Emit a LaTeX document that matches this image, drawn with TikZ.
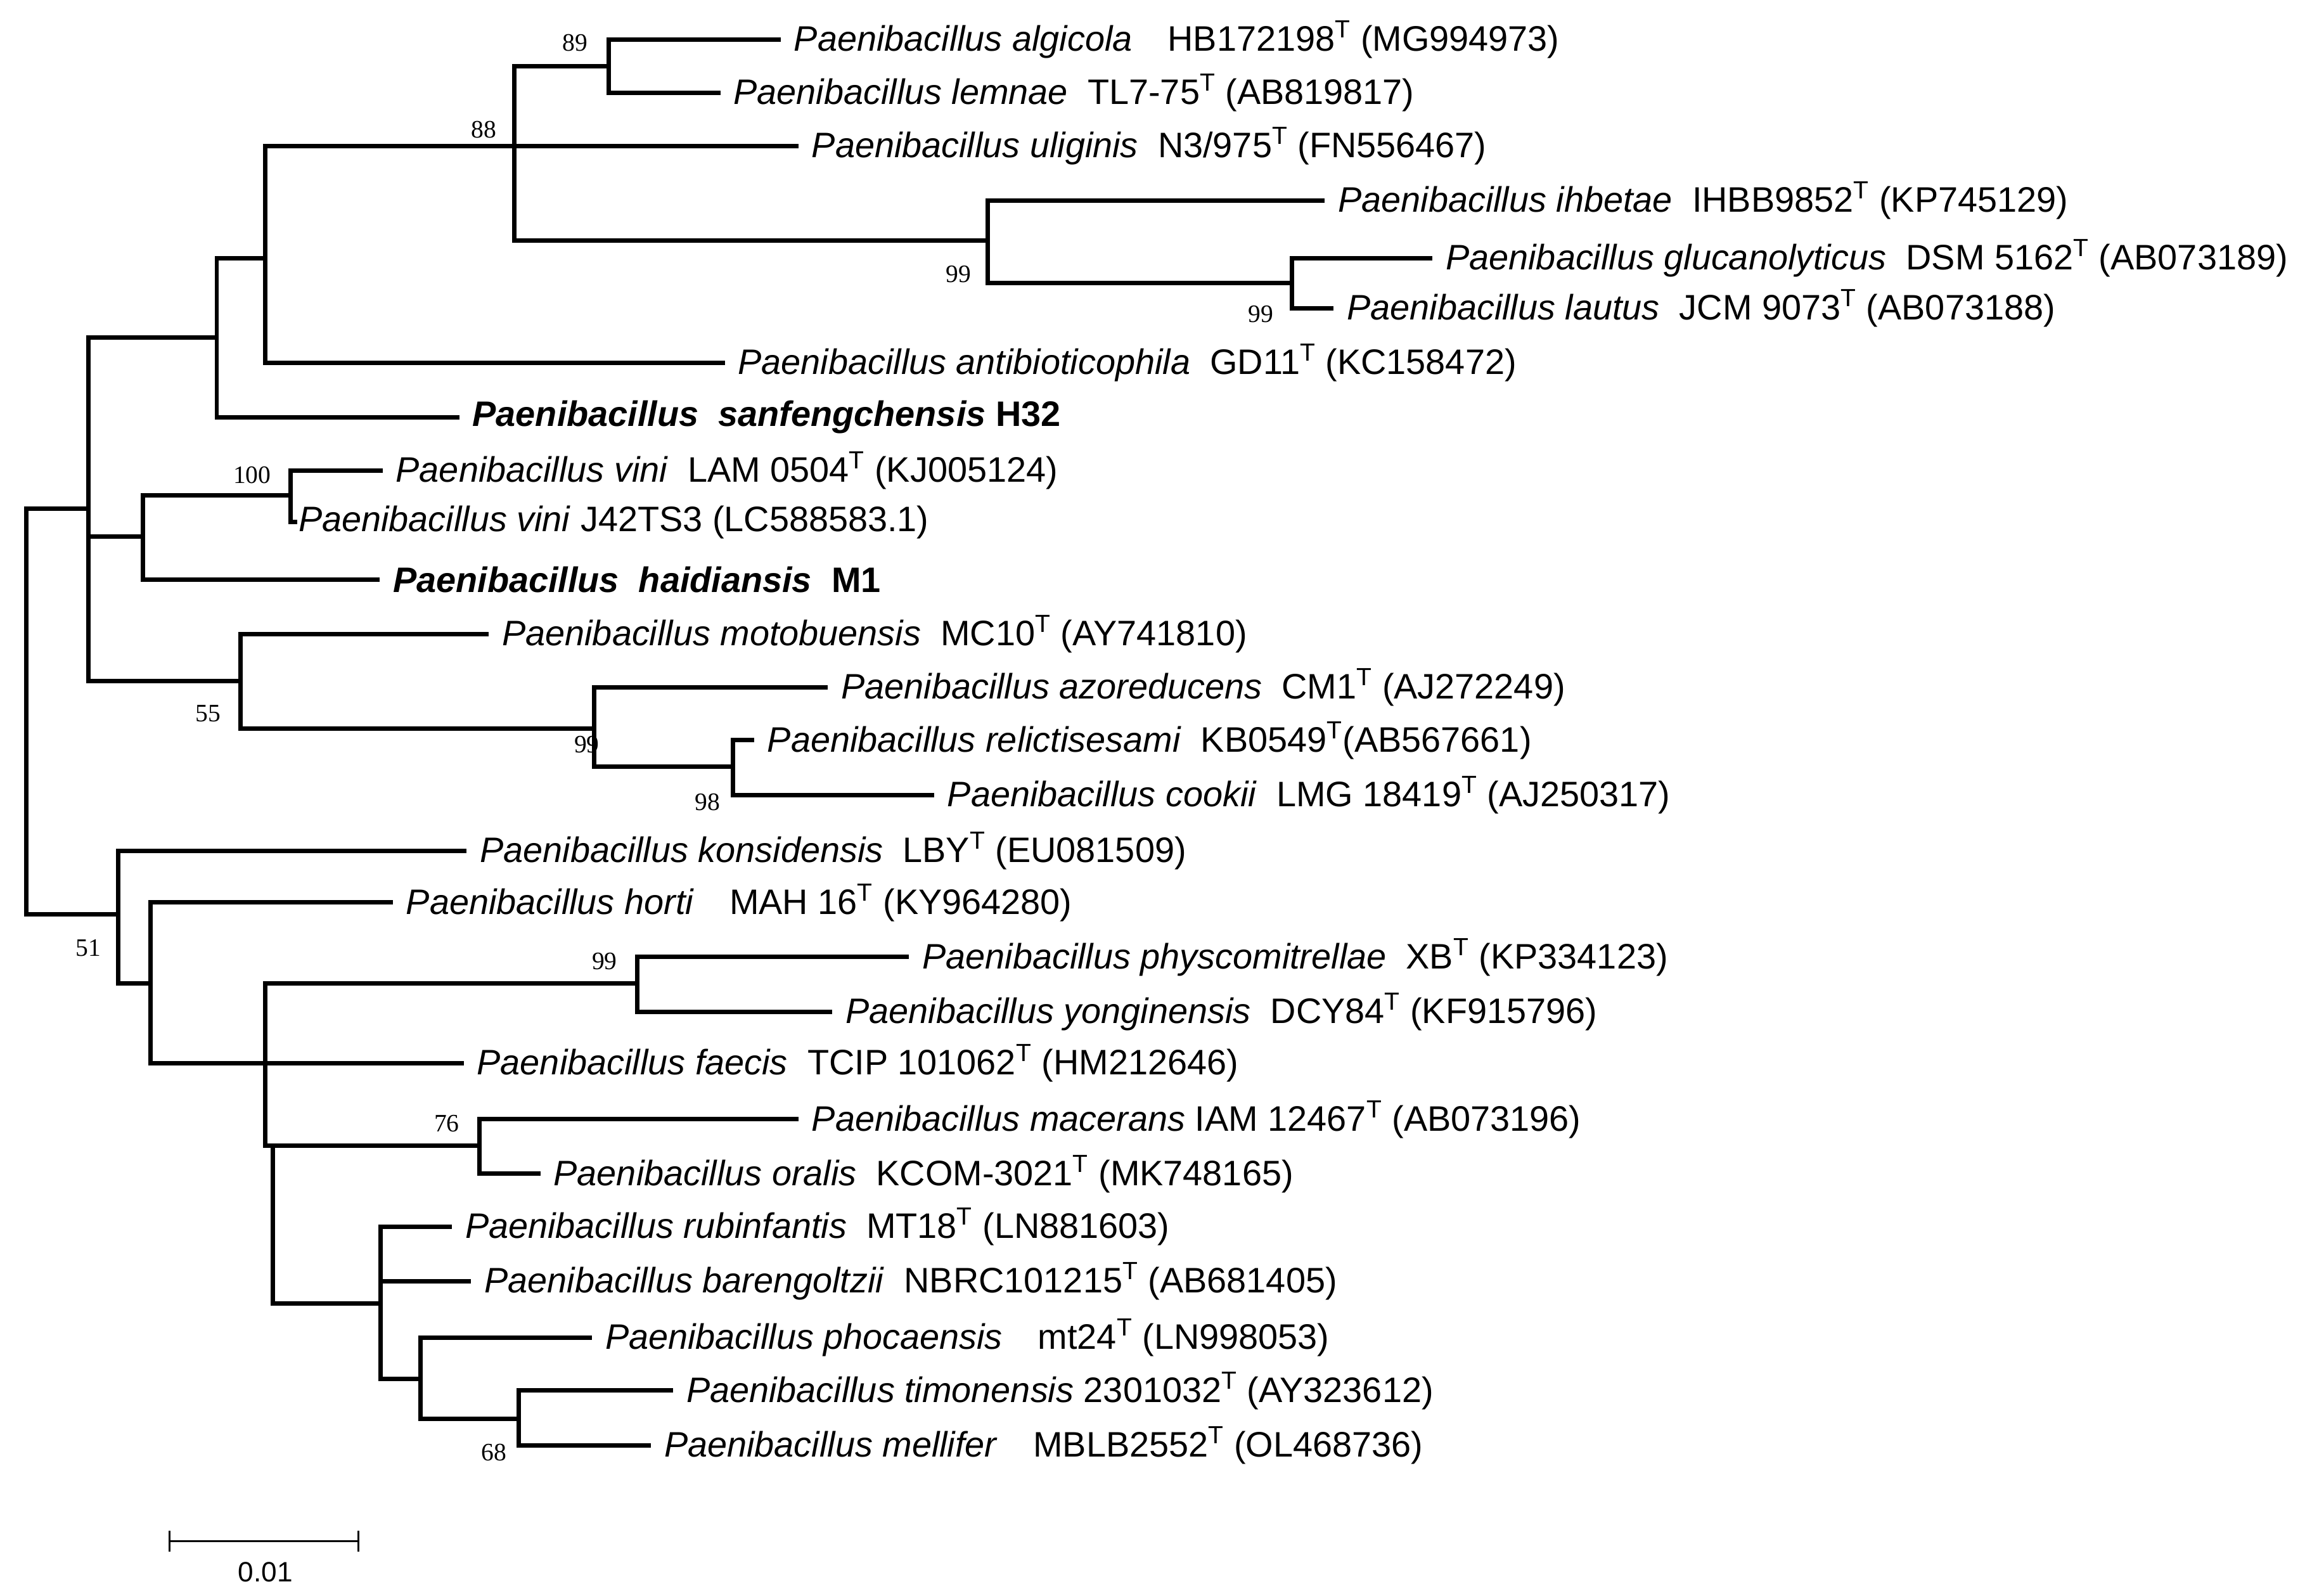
\documentclass[tikz,border=0pt]{standalone}
\usepackage{fontspec}
\setmainfont{Liberation Sans}
\newfontfamily\bsfont{Liberation Serif}
\begin{document}
\begin{tikzpicture}[x=1pt,y=-1pt,line width=3pt,
  lab/.style={anchor=west,inner sep=0pt,font=\fontsize{24}{28}\selectfont},
  bs/.style={inner sep=0pt,font=\bsfont\fontsize{17}{20}\selectfont}]
\useasboundingbox (0,0) rectangle (1568,1082);
\newcommand\lf[4]{\coordinate (#1) at (#2,#3); \node[lab] (t#1) at ([xshift=9pt]#1) {#4};}
\newcommand\T{\textsuperscript{T}}
% internal nodes
\coordinate (root) at (18,482);
\coordinate (A) at (60,345);
\coordinate (B) at (147,229);
\coordinate (E) at (180,175);
\coordinate (F) at (349,99);
\coordinate (G) at (413,45);
\coordinate (H) at (670,163);
\coordinate (I) at (876,192);
\coordinate (C) at (97,364);
\coordinate (J) at (197,336);
\coordinate (D) at (163,462);
\coordinate (K) at (403,494);
\coordinate (L) at (497,520);
\coordinate (M) at (80,620);
\coordinate (N) at (102,667);
\coordinate (O) at (180,721);
\coordinate (P) at (432,667);
\coordinate (S) at (185,777);
\coordinate (Tn) at (325,777);
\coordinate (V) at (258,884);
\coordinate (W) at (285,935);
\coordinate (X) at (352,962);
% leaves
\lf{l1}{528}{27}{\textit{Paenibacillus algicola}\quad HB172198\T\ (MG994973)}
\lf{l2}{487}{63}{\textit{Paenibacillus lemnae}\ \ TL7-75\T\ (AB819817)}
\lf{l3}{540}{99}{\textit{Paenibacillus uliginis}\ \ N3/975\T\ (FN556467)}
\lf{l4}{897}{136}{\textit{Paenibacillus ihbetae}\ \ IHBB9852\T\ (KP745129)}
\lf{l5}{970}{175}{\textit{Paenibacillus glucanolyticus}\ \ DSM 5162\T\ (AB073189)}
\lf{l6}{903}{209}{\textit{Paenibacillus lautus}\ \ JCM 9073\T\ (AB073188)}
\lf{l7}{490}{246}{\textit{Paenibacillus antibioticophila}\ \ GD11\T\ (KC158472)}
\lf{l8}{310}{283}{\textbf{\textit{Paenibacillus\ \ sanfengchensis} H32}}
\lf{l9}{258}{319}{\textit{Paenibacillus vini}\ \ LAM 0504\T\ (KJ005124)}
\lf{l10}{200}{354}{\hspace{-8pt}\textit{Paenibacillus vini} J42TS3 (LC588583.1)}
\lf{l11}{256}{393}{\textbf{\textit{Paenibacillus\ \ haidiansis}\ \ M1}}
\lf{l12}{330}{430}{\textit{Paenibacillus motobuensis}\ \ MC10\T\ (AY741810)}
\lf{l13}{560}{466}{\textit{Paenibacillus azoreducens}\ \ CM1\T\ (AJ272249)}
\lf{l14}{510}{502}{\textit{Paenibacillus relictisesami}\ \ KB0549\T(AB567661)}
\lf{l15}{632}{539}{\textit{Paenibacillus cookii}\ \ LMG 18419\T\ (AJ250317)}
\lf{l16}{315}{577}{\textit{Paenibacillus konsidensis}\ \ LBY\T\ (EU081509)}
\lf{l17}{265}{612}{\textit{Paenibacillus horti}\quad MAH 16\T\ (KY964280)}
\lf{l18}{615}{649}{\textit{Paenibacillus physcomitrellae}\ \ XB\T\ (KP334123)}
\lf{l19}{563}{686}{\textit{Paenibacillus yonginensis}\ \ DCY84\T\ (KF915796)}
\lf{l20}{313}{721}{\textit{Paenibacillus faecis}\ \ TCIP 101062\T\ (HM212646)}
\lf{l21}{540}{759}{\textit{Paenibacillus macerans} IAM 12467\T\ (AB073196)}
\lf{l22}{365}{796}{\textit{Paenibacillus oralis}\ \ KCOM-3021\T\ (MK748165)}
\lf{l23}{305}{832}{\textit{Paenibacillus rubinfantis}\ \ MT18\T\ (LN881603)}
\lf{l24}{318}{869}{\textit{Paenibacillus barengoltzii}\ \ NBRC101215\T\ (AB681405)}
\lf{l25}{400}{907}{\textit{Paenibacillus phocaensis}\quad mt24\T\ (LN998053)}
\lf{l26}{455}{943}{\textit{Paenibacillus timonensis} 2301032\T\ (AY323612)}
\lf{l27}{440}{980}{\textit{Paenibacillus mellifer}\quad MBLB2552\T\ (OL468736)}
% branches
\foreach \p/\c in {root/A,root/M,A/B,A/C,A/D,B/E,B/l8,E/F,E/l7,F/G,F/l3,F/H,G/l1,G/l2,
  H/l4,H/I,I/l5,I/l6,C/J,C/l11,J/l9,J/l10,D/l12,D/K,K/l13,K/L,L/l14,L/l15,
  M/l16,M/N,N/l17,N/O,O/P,O/l20,O/S,P/l18,P/l19,S/Tn,S/V,Tn/l21,Tn/l22,
  V/l23,V/l24,V/W,W/l25,W/X,X/l26,X/l27}
  \draw[line cap=rect] (\p) |- (\c);
% bootstrap
\node[bs] at (390,29) {89};
\node[bs] at (328,88) {88};
\node[bs] at (650,186) {99};
\node[bs] at (855,213) {99};
\node[bs] at (171,322) {100};
\node[bs] at (141,484) {55};
\node[bs] at (398,505) {99};
\node[bs] at (480,544) {98};
\node[bs] at (60,643) {51};
\node[bs] at (410,652) {99};
\node[bs] at (303,762) {76};
\node[bs] at (335,985) {68};
% scale bar
\coordinate (s1) at (115,1045); \coordinate (s2) at (243,1045);
\draw[line width=1.5pt] (s1) -- (s2);
\draw[line width=1.5pt] ([yshift=-7pt]s1) -- ([yshift=7pt]s1);
\draw[line width=1.5pt] ([yshift=-7pt]s2) -- ([yshift=7pt]s2);
\node[font=\fontsize{19}{22}\selectfont] (sl) at (180,1066) {0.01};
\end{tikzpicture}
\end{document}
